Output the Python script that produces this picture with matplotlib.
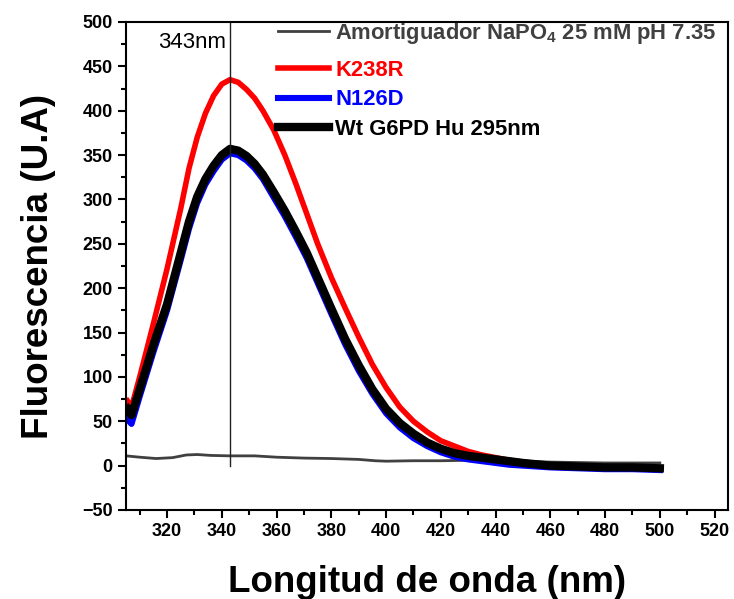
import matplotlib
matplotlib.use("Agg")
import matplotlib.pyplot as plt
from matplotlib.ticker import MultipleLocator

plt.rcParams['font.family'] = ['Liberation Sans', 'DejaVu Sans']
plt.rcParams['mathtext.default'] = 'regular'

# Emission spectra (excitation 295 nm)
wl = [305.5, 307, 310, 315, 320, 325, 328, 331, 334, 337, 340, 343, 346,
      349, 352, 355, 359, 363, 367, 371, 375, 380, 385, 390, 395, 400, 405,
      410, 415, 420, 425, 430, 435, 440, 445, 450, 460, 470, 480, 490, 500]
k238r = [73, 66, 100, 160, 222, 290, 335, 370, 397, 417, 430, 435, 432,
         424, 414, 400, 378, 350, 318, 284, 250, 212, 178, 145, 114, 88, 66,
         50, 38, 28, 22, 16, 12, 9, 6, 4, 1, -1, -2, -2, -3]
n126d = [52, 47, 78, 128, 175, 232, 267, 296, 317, 332, 345, 352, 350,
         344, 335, 323, 302, 281, 258, 234, 206, 171, 137, 107, 81, 59, 43,
         31, 22, 15, 10, 7, 5, 3, 1, 0, -2, -3, -4, -4, -5]
wt = [64, 57, 86, 136, 182, 240, 275, 303, 323, 338, 350, 357, 355,
      349, 340, 328, 308, 287, 264, 240, 212, 177, 143, 113, 86, 64, 48,
      36, 26, 19, 14, 11, 9, 7, 5, 3, 0, -1, -2, -2, -3]

wl_buffer = [305, 310, 316, 322, 327, 331, 336, 343, 352, 360, 370, 380,
             390, 396, 400, 410, 420, 430, 440, 450, 460, 470, 480, 490, 500]
buffer = [11, 9.5, 8, 9, 12, 12.5, 11.5, 11, 11, 9.5, 8.5, 8,
          7, 5.5, 5, 5.5, 5.5, 6, 5.5, 5, 4, 3.5, 3, 3, 3]

peak_nm = 343

fig = plt.figure(figsize=(7.34, 5.99), dpi=100)
ax = fig.add_axes([0.1717, 0.1486, 0.8205, 0.8147])

h_buf, = ax.plot(wl_buffer, buffer, color='#404040', lw=2.0)
h_k, = ax.plot(wl, k238r, color='#ff0000', lw=4.0)
h_n, = ax.plot(wl, n126d, color='#0000ff', lw=4.4)
h_wt, = ax.plot(wl, wt, color='#000000', lw=6.0)

ax.plot([peak_nm, peak_nm], [0, 500], color='#222222', lw=1.0)
ax.text(peak_nm - 1.5, 477, f'{peak_nm}nm', ha='right', va='center',
        fontsize=16)

ax.set_xlim(305, 525)
ax.set_ylim(-50, 500)
ax.xaxis.set_major_locator(MultipleLocator(20))
ax.xaxis.set_minor_locator(MultipleLocator(10))
ax.yaxis.set_major_locator(MultipleLocator(50))
ax.yaxis.set_minor_locator(MultipleLocator(25))
ax.set_xticks(range(320, 521, 20))
ax.tick_params(which='major', direction='out', length=6, width=1.5,
               labelsize=13)
ax.tick_params(which='minor', direction='out', length=3.5, width=1.5)
for lbl in ax.get_xticklabels() + ax.get_yticklabels():
    lbl.set_fontweight('bold')
for sp in ax.spines.values():
    sp.set_linewidth(1.5)

ax.set_xlabel('Longitud de onda (nm)', fontsize=26.5, fontweight='bold',
              labelpad=18)
ax.set_ylabel('Fluorescencia (U.A)', fontsize=26.5, fontweight='bold',
              labelpad=19)

# buffer entry sits apart from the three samples
leg_kw = dict(loc='upper left', frameon=False, borderpad=0, borderaxespad=0,
              handlelength=2.35, handletextpad=0.27, labelspacing=0.4,
              prop={'weight': 'bold', 'size': 15.8})
leg1 = ax.legend([h_buf], [r'Amortiguador NaPO$_4$ 25 mM pH 7.35'],
                 bbox_to_anchor=(0.252, 1.003), **leg_kw)
leg1.get_texts()[0].set_color('#404040')
ax.add_artist(leg1)
leg2 = ax.legend([h_k, h_n, h_wt], ['K238R', 'N126D', 'Wt G6PD Hu 295nm'],
                 bbox_to_anchor=(0.252, 0.923), **leg_kw)
for txt, c in zip(leg2.get_texts(), ['#ff0000', '#0000ff', '#000000']):
    txt.set_color(c)

fig.savefig('out.png', dpi=100)
